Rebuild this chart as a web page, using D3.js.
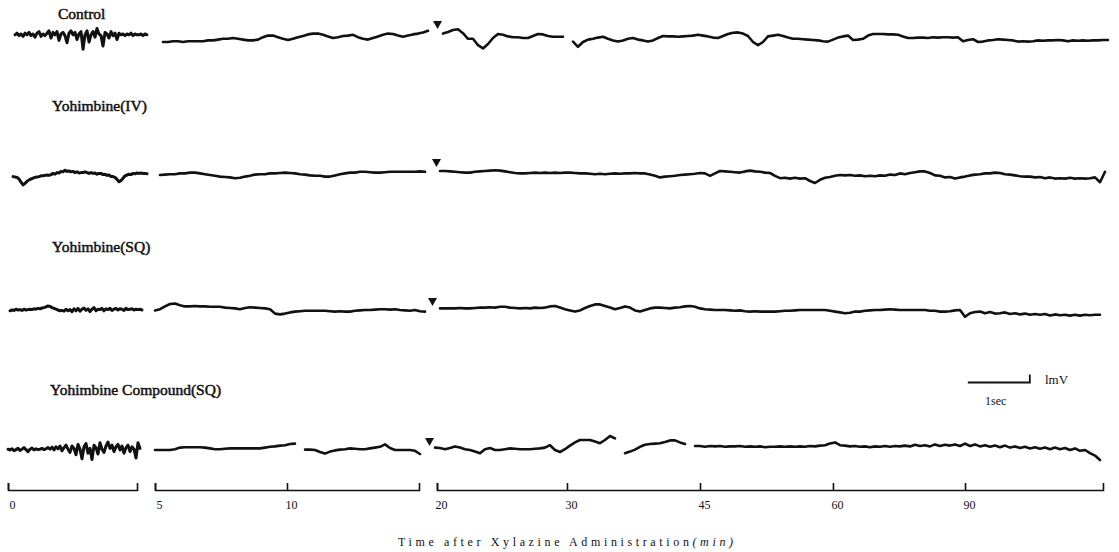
<!DOCTYPE html>
<html>
<head>
<meta charset="utf-8">
<script src="https://cdn.jsdelivr.net/npm/d3@7"></script>
<style>
  html, body { margin: 0; padding: 0; background: #fff; }
  svg { display: block; }
  text { font-family: "Liberation Serif", "Times New Roman", serif; fill: #111; }
</style>
</head>
<body>
<div id="chart"></div>
<script>
// Trace labels and time-axis tick labels (minutes after xylazine)
const traceLabels = ["Control", "Yohimbine(IV)", "Yohimbine(SQ)", "Yohimbine Compound(SQ)"];
const timeTickLabels = ["0", "5", "10", "20", "30", "45", "60", "90"];

// EEG traces in mV.
// "Left" = pre-xylazine strip (sampled every 2px), "Main" = post strip (every 5px); null = pen gap
const controlLeft = [
  0.4,0.6,0.3,0.5,0.2,0.6,0.4,0.7,0.3,0.5,0.1,0.6,0.8,0.2,0.5,0.3,
  0.6,0.9,0.0,0.7,0.4,0.8,-0.3,0.5,0.7,0.3,-0.6,0.6,0.9,0.4,0.7,-0.2,0.5,
  0.8,-1.4,0.4,0.9,-0.5,0.4,0.8,0.1,1.2,0.5,
  0.3,-1.0,0.7,0.5,0.0,0.8,0.3,0.6,-0.2,0.6,
  0.4,0.5,0.3,0.5,0.4,0.6,0.3,0.5,0.4,0.4,0.5,0.3,0.5,0.4
];
const controlMain = [
  -0.5,-0.5,-0.4,-0.4,-0.5,-0.4,-0.4,-0.4,-0.4,-0.3,
  -0.3,-0.2,-0.1,-0.1,0,-0.1,-0.2,-0.3,-0.3,-0.2,
  0.1,0.3,0.3,0.1,-0.1,-0.25,-0.1,0.1,0.25,0.45,
  0.55,0.55,0.4,0.2,0,0.1,0.25,0.3,0.4,0.1,
  -0.1,-0.2,0,0.2,0.4,0.55,0.5,0.3,0.15,0.3,
  0.45,0.55,0.7,0.9,null,null,0.55,0.75,1.0,1.1,
  0.6,-0.1,-0.1,-0.9,-1.3,-0.75,0,0.5,0.4,0.2,
  0.1,0.1,0,0,0.25,0.5,0.45,0.25,0.15,0.15,
  0.15,null,-0.45,-1.1,-0.5,-0.2,-0.1,0.05,0.15,-0.1,
  -0.3,-0.45,-0.3,-0.1,0,-0.2,-0.3,-0.45,-0.3,0,
  0.25,0.2,0.2,0.15,0.2,0.25,0.3,0.4,0.3,0.2,
  0.05,0,0.25,0.5,0.65,0.7,0.55,0.25,-0.5,-0.9,
  -0.5,0.2,0.3,0.4,0.25,0.05,-0.1,-0.1,-0.15,-0.2,
  -0.25,-0.3,-0.4,-0.45,-0.2,0.05,0.2,0.3,-0.25,-0.2,
  -0.1,0.3,0.5,0.5,0.5,0.45,0.45,0.4,0.2,0,
  0,0.05,0.05,0,0.1,0.05,0.1,0.1,0.05,0.1,
  -0.4,-0.25,-0.15,-0.5,-0.45,-0.3,-0.25,-0.15,-0.2,-0.25,
  -0.3,-0.45,-0.4,-0.45,-0.4,-0.3,-0.35,-0.3,-0.3,-0.25,
  -0.3,-0.4,-0.3,-0.35,-0.3,-0.35,-0.3,-0.3,-0.25,-0.25
];

const ivLeft = [
  -0.2,-0.25,-0.3,-0.5,-0.9,-1.25,-1.05,-0.8,-0.6,-0.5,
  -0.4,-0.3,-0.25,-0.2,-0.1,-0.1,-0.05,0,-0.05,0.05,
  0.2,0.1,0.3,0.25,0.45,0.4,0.6,0.45,0.5,0.4,
  0.45,0.3,0.4,0.25,0.3,0.3,0.4,0.3,0.2,0.3,
  0.2,0.25,0.1,0.2,0.2,0.05,0.1,-0.05,0,-0.2,
  -0.2,-0.3,-0.55,-0.85,-0.7,-0.4,-0.1,0,0.1,0.05,
  0.2,0.15,0.25,0.2,0.25,0.2,0.2,0.15
];
const ivMain = [
  0,0.05,0.1,0.1,0.2,0.2,0.3,0.3,0.2,0.1,
  0,-0.1,-0.2,-0.25,-0.3,-0.4,-0.35,-0.2,-0.1,0.05,
  0.1,0.1,0.2,0.2,0.25,0.3,0.25,0.2,0.1,0.05,
  -0.05,-0.1,-0.1,-0.2,-0.2,-0.05,0.1,0.2,0.3,0.3,
  0.4,0.4,0.35,0.3,0.3,0.35,0.4,0.4,0.4,0.4,
  0.4,0.4,0.45,0.4,null,null,0.5,0.5,0.45,0.4,
  0.35,0.3,0.3,0.4,0.45,0.5,0.55,0.6,0.55,0.45,
  0.35,0.25,0.2,0.2,0.25,0.3,0.25,0.3,0.25,0.3,
  0.25,0.3,0.3,0.25,0.2,0.2,0.15,0.1,0.15,0.1,
  0.15,0.2,0.15,0.2,0.2,0.25,0.2,0.2,0.05,-0.1,
  -0.3,-0.2,-0.15,-0.1,0,0.05,0.1,0.15,0.25,0.2,
  -0.1,0.2,0.5,0.45,0.4,0.35,0.3,0.45,0.55,0.45,
  0.4,0.3,0.25,-0.1,-0.4,-0.35,-0.45,-0.35,-0.45,-0.4,
  -0.75,-1.0,-0.6,-0.35,-0.25,-0.1,0,-0.05,0,-0.1,
  -0.05,-0.15,-0.1,-0.15,-0.05,-0.1,0.05,0,0.2,0.1,
  0.25,0.35,0.45,0.45,0.25,-0.05,-0.1,-0.3,-0.25,-0.45,
  -0.3,-0.2,-0.05,0.05,0.1,0.2,0.2,0.3,0.25,0.1,
  0.05,-0.05,-0.15,-0.2,-0.2,-0.3,-0.25,-0.4,-0.3,-0.45,
  -0.4,-0.45,-0.35,-0.45,-0.4,-0.45,-0.4,-0.3,-0.9,0.4
];

const sqLeft = [
  -0.1,0,-0.05,0.1,0,0.05,-0.05,0.1,0,0.05,0.1,0.05,0.15,0.1,0.2,0.15,
  0.25,0.3,0.4,0.5,0.45,0.3,0.2,0.1,0,-0.1,-0.05,-0.15,0.1,-0.1,0.05,-0.2,
  0.15,-0.1,0.2,-0.15,0.1,0.25,-0.05,0.15,-0.2,0.1,0.3,-0.1,0.1,0.05,0.2,-0.1,
  0.15,0.05,0.2,-0.05,0.1,0.2,0,0.15,0.1,-0.05,0.2,0.05,0.1,0.15,0,0.1,0.05,0.1,0
];
const sqMain = [
  -0.05,0.1,0.45,0.75,0.8,0.6,0.45,0.45,0.5,0.45,
  0.45,0.4,0.4,0.4,0.3,0.25,0.2,0.1,0.25,0.35,
  0.3,0.25,0.2,0.1,-0.45,-0.55,-0.45,-0.3,-0.2,-0.15,
  -0.1,-0.1,-0.1,-0.1,-0.1,-0.15,-0.2,-0.15,-0.2,-0.2,
  -0.1,-0.05,0,0,0.05,0.1,0.1,0.05,0.1,0,
  -0.05,-0.1,0,-0.15,-0.2,null,null,0.2,0.2,0.2,
  0.2,0.25,0.2,0.2,0.25,0.3,0.3,0.35,0.3,0.4,
  0.4,0.3,0.25,0.2,0.25,0.2,0.3,0.25,0.3,0.45,
  0.5,0.3,0.1,-0.05,-0.2,-0.05,0.25,0.5,0.7,0.7,
  0.5,0.3,0.1,0.25,0.45,0.3,-0.05,-0.2,0,0.2,
  0.3,0.3,0.25,0.2,0.3,0.35,0.45,0.5,0.4,0.2,
  0.1,0.05,0,0,0,-0.05,-0.1,-0.05,-0.15,-0.2,
  -0.15,-0.2,-0.2,-0.2,-0.2,-0.15,-0.1,-0.1,-0.05,0,
  0,0,0,0,0,-0.1,-0.2,-0.3,-0.4,-0.35,
  -0.2,-0.2,-0.1,-0.05,0,0,0.05,0.1,0.05,0,
  0,0,0,0,0,-0.1,-0.1,-0.2,-0.2,-0.15,
  -0.05,0,-0.85,-0.4,-0.25,-0.2,-0.4,-0.25,-0.45,-0.4,
  -0.3,-0.5,-0.4,-0.55,-0.45,-0.6,-0.5,-0.6,-0.5,-0.7,
  -0.55,-0.65,-0.6,-0.7,-0.6,-0.7,-0.6,-0.65,-0.6,-0.6
];

const compoundLeft = [
  0.1,0,0.15,-0.1,0.05,0.2,-0.05,0.1,0.3,0.05,-0.2,0.1,0.25,0,0.15,0.05,
  0.1,0.2,0.05,0.15,0.3,0.1,0.35,0,0.4,0.15,0.5,-0.1,0.3,0.6,0.1,-0.3,
  0.5,0.2,-0.6,0.7,0.1,-1.1,0.4,0.8,-0.4,0.2,-1.2,0.6,0.3,-0.5,0.9,0.1,
  -0.3,0.5,1.0,0.2,0.6,-0.2,0.4,0.7,0,0.5,-0.4,0.3,0.6,-0.2,0.4,0.1,-1.0,0.9,0.2
];
const compoundMain = [
  0,0,0,0,0.1,0.3,0.35,0.35,0.35,0.35,
  0.3,0.2,0.1,0.1,0.15,0.2,0.2,0.2,0.2,0.2,
  0.2,0.2,0.3,0.4,0.45,0.55,0.6,0.75,0.8,null,
  0.05,0.05,0,-0.25,-0.45,-0.2,-0.05,0.05,0.1,0.2,
  0.15,0.1,0.1,0.2,0.3,0.4,0.7,0.25,0,0,
  0,0,-0.1,-0.5,null,null,0.3,0.25,0.1,0.25,
  0.45,0.3,0.1,0,-0.2,-0.4,0.1,0.25,0,0,
  0.1,0.2,0.15,0.1,0.1,0.1,0.15,0.2,0.3,0.6,
  0,-0.25,0.1,0.55,0.95,1.25,1.25,1.25,1.05,0.85,
  1.25,1.75,1.45,null,-0.4,-0.2,0.05,0.4,0.65,0.75,
  0.8,0.85,1.0,1.2,1.2,0.95,0.75,null,0.5,0.5,
  0.4,0.5,0.45,0.5,0.4,0.45,0.45,0.5,0.4,0.45,
  0.4,0.45,0.35,0.4,0.4,0.45,0.4,0.45,0.4,0.45,
  0.4,0.5,0.45,0.55,0.6,0.8,0.95,0.6,0.55,0.45,
  0.5,0.4,0.45,0.35,0.45,0.4,0.5,0.4,0.5,0.45,
  0.55,0.45,0.65,0.5,0.6,0.45,0.7,0.5,0.65,0.55,
  0.7,0.5,0.8,0.5,0.7,0.45,0.6,0.4,0.55,0.35,
  0.55,0.3,0.45,0.25,0.4,0.2,0.35,0.15,0.3,0.1,
  0.3,0.1,0.25,0,0.2,-0.1,0,-0.4,-0.7,-1.25
];

// ---- layout ----
const W = 1119, H = 552;
const PX_PER_SEC = 62;   // 1 sec calibration bar
const PX_PER_MV = 8;     // 1 mV calibration bar
const LEFT_DT = 2 / PX_PER_SEC;
const MAIN_DT = 5 / PX_PER_SEC;

const x = d3.scaleLinear().domain([0, W / PX_PER_SEC]).range([0, W]);
const y = d3.scaleLinear().domain([-1, 1]).range([PX_PER_MV, -PX_PER_MV]);

const rows = [
  { left: controlLeft,  main: controlMain,  base: 38,  leftStart: 0.242, mainStart: 2.629, marker: 7.056, markerTop: -17, labelX: 58, labelY: 19 },
  { left: ivLeft,       main: ivMain,       base: 175, leftStart: 0.21,  mainStart: 2.581, marker: 7.04,  markerTop: -16, labelX: 52, labelY: 111 },
  { left: sqLeft,       main: sqMain,       base: 310, leftStart: 0.161, mainStart: 2.5,   marker: 6.976, markerTop: -12, labelX: 52, labelY: 252 },
  { left: compoundLeft, main: compoundMain, base: 450, leftStart: 0.129, mainStart: 2.5,   marker: 6.927, markerTop: -12, labelX: 50, labelY: 395 }
];

// time axis: broken into three strips, ticks refer to timeTickLabels
const axisY = 490;
const tickTimes = [0.129, 2.5, 4.629, 7.048, 9.145, 11.29, 13.435, 15.565];
const axisSegments = [
  { from: 0.129, to: 2.21,  ticks: [0] },
  { from: 2.5,   to: 6.758, ticks: [1, 2] },
  { from: 7.048, to: 17.79, ticks: [3, 4, 5, 6, 7] }
];

const svg = d3.select("#chart").append("svg")
  .attr("width", W)
  .attr("height", H)
  .attr("viewBox", `0 0 ${W} ${H}`);

svg.append("rect").attr("width", W).attr("height", H).attr("fill", "#fff");

const line = d3.line()
  .defined((d) => d.v !== null)
  .x((d) => x(d.t))
  .y((d) => y(d.v));

const toPoints = (values, start, dt) => values.map((v, i) => ({ t: start + i * dt, v }));

rows.forEach((row, i) => {
  const g = svg.append("g").attr("transform", `translate(0,${row.base})`);

  g.append("path")
    .attr("d", line(toPoints(row.left, row.leftStart, LEFT_DT)))
    .attr("fill", "none")
    .attr("stroke", "#111")
    .attr("stroke-width", 3)
    .attr("stroke-linejoin", "round")
    .attr("stroke-linecap", "round");

  g.append("path")
    .attr("d", line(toPoints(row.main, row.mainStart, MAIN_DT)))
    .attr("fill", "none")
    .attr("stroke", "#111")
    .attr("stroke-width", 2.6)
    .attr("stroke-linejoin", "round")
    .attr("stroke-linecap", "round");

  // injection marker
  const mx = x(row.marker), top = row.markerTop;
  g.append("path")
    .attr("d", `M${mx - 4.5},${top}L${mx + 4.5},${top}L${mx},${top + 8}Z`)
    .attr("fill", "#111");

  svg.append("text")
    .attr("x", row.labelX)
    .attr("y", row.labelY)
    .attr("font-size", 15.5)
    .attr("stroke", "#111")
    .attr("stroke-width", 0.5)
    .text(traceLabels[i]);
});

// calibration bar
const calStart = 15.61;
const calG = svg.append("g").attr("transform", "translate(0,382.5)");
calG.append("path")
  .attr("d", `M${x(calStart)},0H${x(calStart + 1)}V${y(1)}`)
  .attr("fill", "none")
  .attr("stroke", "#111")
  .attr("stroke-width", 1.8);
svg.append("text").attr("x", 1045).attr("y", 384).attr("font-size", 13).text("lmV");
svg.append("text").attr("x", 985).attr("y", 405).attr("font-size", 12).text("1sec");

// broken time axis
axisSegments.forEach((seg) => {
  const s = d3.scaleLinear().domain([seg.from, seg.to]).range([x(seg.from), x(seg.to)]);
  const ax = d3.axisBottom(s)
    .tickValues(seg.ticks.map((k) => tickTimes[k]))
    .tickFormat((d) => timeTickLabels[tickTimes.indexOf(d)])
    .tickSizeInner(-7)
    .tickSizeOuter(-7)
    .tickPadding(10);
  const ag = svg.append("g").attr("transform", `translate(0,${axisY})`).call(ax);
  ag.selectAll("path, line").attr("stroke", "#111").attr("stroke-width", 1.6);
  ag.selectAll("text")
    .attr("font-family", "Liberation Serif, serif")
    .attr("font-size", 12)
    .attr("fill", "#111")
    .attr("dx", 4);
});

const title = svg.append("text")
  .attr("x", 398)
  .attr("y", 546)
  .attr("font-size", 12)
  .attr("textLength", 335)
  .attr("lengthAdjust", "spacing");
title.append("tspan").text("Time after Xylazine Administration");
title.append("tspan").attr("font-style", "italic").text("(min)");
</script>
</body>
</html>
